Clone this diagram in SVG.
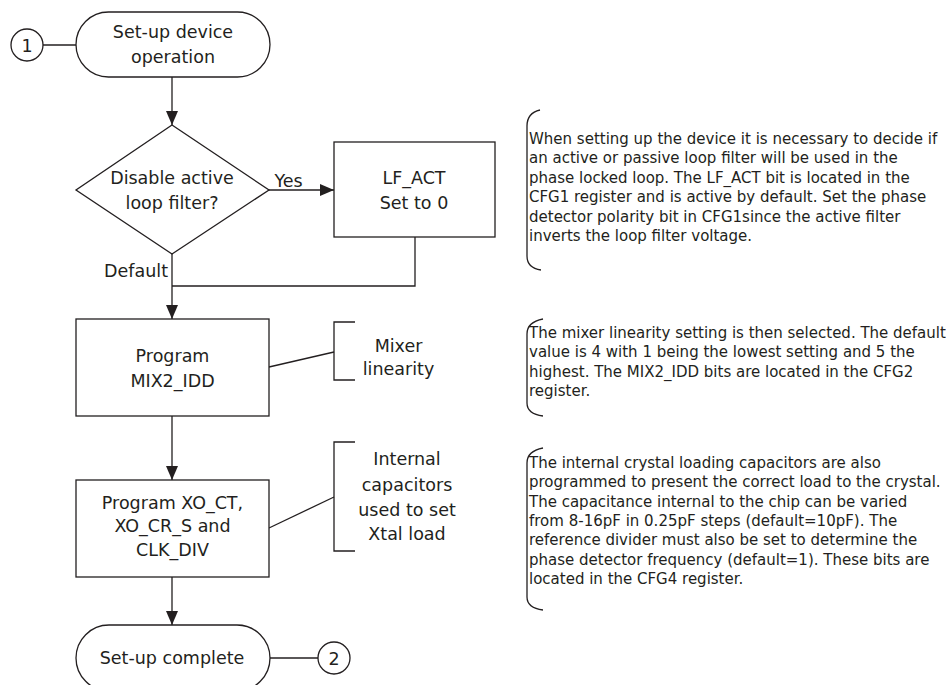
<svg xmlns="http://www.w3.org/2000/svg" width="946" height="685" viewBox="0 0 946 685">
<defs>
<style>
.s{fill:none;stroke:#231f20;stroke-width:1.3}
.n{fill:#fff;stroke:#231f20;stroke-width:1.3}
.t{font-family:"DejaVu Sans",sans-serif;font-size:17.5px;fill:#231f20;text-anchor:middle}
.b{font-family:"DejaVu Sans",sans-serif;font-size:15px;fill:#231f20}
</style>
<marker id="ah" markerWidth="14" markerHeight="12" refX="14" refY="6" orient="auto" markerUnits="userSpaceOnUse">
<path d="M0,0 L14,6 L0,12 Z" fill="#231f20"/>
</marker>
</defs>
<rect width="946" height="685" fill="#fff"/>
<g id="connectors">
<line class="s" x1="43" y1="45" x2="76" y2="45"/>
<line class="s" x1="172" y1="77" x2="172" y2="125" marker-end="url(#ah)"/>
<line class="s" x1="269" y1="190" x2="334" y2="190" marker-end="url(#ah)"/>
<polyline class="s" points="415,237 415,286 172,286"/>
<line class="s" x1="172" y1="254" x2="172" y2="319" marker-end="url(#ah)"/>
<line class="s" x1="172" y1="416" x2="172" y2="480" marker-end="url(#ah)"/>
<line class="s" x1="172" y1="577" x2="172" y2="625" marker-end="url(#ah)"/>
<line class="s" x1="270" y1="658" x2="318" y2="658"/>
<line class="s" x1="269" y1="367" x2="334" y2="352"/>
<line class="s" x1="269" y1="528" x2="334" y2="497"/>
<text class="t" x="288.5" y="187">Yes</text>
<text class="t" x="168" y="277" style="text-anchor:end">Default</text>
</g>
<g id="c1">
<circle class="n" cx="27" cy="45" r="16"/>
<text class="t" x="27" y="51.5">1</text>
</g>
<g id="start">
<rect class="n" x="76" y="12" width="194" height="65" rx="32.5" ry="32.5"/>
<text class="t" x="173" y="37.5">Set-up device</text>
<text class="t" x="173" y="63">operation</text>
</g>
<g id="decision">
<polygon class="n" points="172,125 269,190 172,254 76,190"/>
<text class="t" x="172" y="183.5">Disable active</text>
<text class="t" x="172" y="209">loop filter?</text>
</g>
<g id="lfact">
<rect class="n" x="334" y="142" width="161" height="95"/>
<text class="t" x="414" y="183.5">LF_ACT</text>
<text class="t" x="414" y="208.5">Set to 0</text>
</g>
<g id="mix2">
<rect class="n" x="76" y="319" width="193" height="97"/>
<text class="t" x="172.5" y="362">Program</text>
<text class="t" x="172.5" y="387">MIX2_IDD</text>
</g>
<g id="mixnote">
<path class="s" d="M355,322 H334 V380 H355"/>
<text class="t" x="398.5" y="352">Mixer</text>
<text class="t" x="398.5" y="375">linearity</text>
</g>
<g id="xo">
<rect class="n" x="76" y="480" width="193" height="97"/>
<text class="t" x="172.5" y="508.5">Program XO_CT,</text>
<text class="t" x="172.5" y="532">XO_CR_S and</text>
<text class="t" x="172.5" y="555.5">CLK_DIV</text>
</g>
<g id="capnote">
<path class="s" d="M355,442 H334 V551 H355"/>
<text class="t" x="407" y="465">Internal</text>
<text class="t" x="407" y="490.5">capacitors</text>
<text class="t" x="407" y="515.5">used to set</text>
<text class="t" x="407" y="540">Xtal load</text>
</g>
<g id="end">
<rect class="n" x="76" y="625" width="194" height="66" rx="33" ry="33"/>
<text class="t" x="172" y="664">Set-up complete</text>
</g>
<g id="c2">
<circle class="n" cx="334" cy="658" r="16"/>
<text class="t" x="334" y="664.5">2</text>
</g>
<g id="note1">
<path class="s" d="M540,110 Q527,113 527,126 V256 Q527,268 541,270"/>
<text class="b" x="529" y="144">When setting up the device it is necessary to decide if</text>
<text class="b" x="529" y="163.4">an active or passive loop filter will be used in the</text>
<text class="b" x="529" y="182.8">phase locked loop. The LF_ACT bit is located in the</text>
<text class="b" x="529" y="202.2">CFG1 register and is active by default. Set the phase</text>
<text class="b" x="529" y="221.6">detector polarity bit in CFG1since the active filter</text>
<text class="b" x="529" y="241">inverts the loop filter voltage.</text>
</g>
<g id="note2">
<path class="s" d="M543,319 Q527,322 527,334 V403 Q527,414 543,416"/>
<text class="b" x="529" y="338">The mixer linearity setting is then selected. The default</text>
<text class="b" x="529" y="357.4">value is 4 with 1 being the lowest setting and 5 the</text>
<text class="b" x="529" y="376.8">highest. The MIX2_IDD bits are located in the CFG2</text>
<text class="b" x="529" y="396.2">register.</text>
</g>
<g id="note3">
<path class="s" d="M543,448 Q527,451 527,463 V597 Q527,608 543,610"/>
<text class="b" x="529" y="468">The internal crystal loading capacitors are also</text>
<text class="b" x="529" y="487.3">programmed to present the correct load to the crystal.</text>
<text class="b" x="529" y="506.6">The capacitance internal to the chip can be varied</text>
<text class="b" x="529" y="525.9">from 8-16pF in 0.25pF steps (default=10pF). The</text>
<text class="b" x="529" y="545.2">reference divider must also be set to determine the</text>
<text class="b" x="529" y="564.5">phase detector frequency (default=1). These bits are</text>
<text class="b" x="529" y="583.8">located in the CFG4 register.</text>
</g>
</svg>
